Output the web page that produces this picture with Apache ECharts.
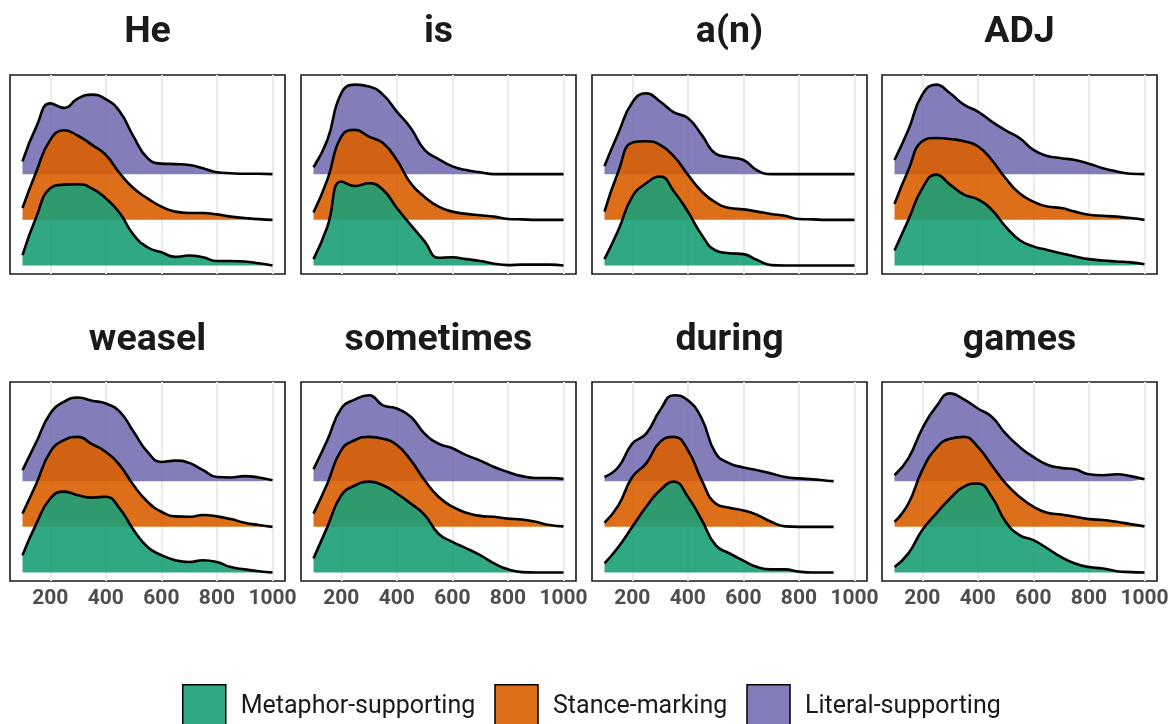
<!DOCTYPE html>
<html><head><meta charset="utf-8">
<script src="https://cdn.jsdelivr.net/npm/echarts@6/dist/echarts.min.js"></script>
<style>html,body{margin:0;padding:0;background:#fff}#c{width:1172px;height:724px}</style>
</head><body><div id="c"></div>
<script>
// ---------------- data ----------------
const panelTitles = ['He', 'is', 'a(n)', 'ADJ', 'weasel', 'sometimes', 'during', 'games'];
const groupNames = ['Metaphor-supporting', 'Stance-marking', 'Literal-supporting'];
const groupColors = ['#1B9E77', '#D95F02', '#7570B3'];
const xTicks = [200, 400, 600, 800, 1000];
// sample positions (ms) of density curves
const xGrid = [100,150,200,250,300,350,400,450,500,550,600,650,700,750,800,850,900,950,1000];
const xDuring = [100,150,200,250,300,350,400,450,500,550,600,650,700,750,800,850,900,925];

// densities (scaled, 1 = ridge spacing)
const heMetaphor = [0.23,1.07,1.69,1.77,1.78,1.69,1.47,1.15,0.67,0.40,0.29,0.19,0.22,0.18,0.10,0.10,0.09,0.05,0.00];
const heStance   = [0.26,1.06,1.75,1.96,1.84,1.64,1.42,1.02,0.69,0.47,0.29,0.18,0.15,0.15,0.12,0.07,0.04,0.015,0.00];
const heLiteral  = [0.28,1.04,1.55,1.45,1.66,1.74,1.64,1.37,0.82,0.35,0.23,0.22,0.20,0.13,0.04,0.02,0.01,0.01,0.00];

const isMetaphor = [0.14,0.85,1.84,1.74,1.80,1.66,1.26,0.89,0.53,0.17,0.18,0.14,0.10,0.04,0.01,0.02,0.02,0.02,0.00];
const isStance   = [0.16,0.88,1.82,1.97,1.82,1.68,1.31,0.80,0.50,0.29,0.18,0.13,0.10,0.07,0.02,0.01,0.00,0.00,0.00];
const isLiteral  = [0.15,0.75,1.77,1.96,1.92,1.74,1.37,1.01,0.53,0.33,0.17,0.09,0.04,0.00,0.00,0.00,0.00,0.00,0.00];

const anMetaphor = [0.14,0.78,1.51,1.80,1.95,1.62,1.18,0.67,0.33,0.27,0.25,0.12,0.01,0.00,0.00,0.00,0.00,0.00,0.00];
const anStance   = [0.18,1.06,1.69,1.72,1.64,1.39,0.99,0.62,0.38,0.26,0.23,0.18,0.13,0.09,0.02,0.01,0.00,0.00,0.00];
const anLiteral  = [0.18,0.90,1.57,1.77,1.59,1.35,1.23,0.86,0.45,0.37,0.31,0.08,0.00,0.00,0.00,0.00,0.00,0.00,0.00];

const adjMetaphor = [0.33,1.00,1.69,1.99,1.77,1.55,1.45,1.22,0.85,0.56,0.42,0.34,0.27,0.20,0.14,0.11,0.09,0.07,0.03];
const adjStance   = [0.35,1.09,1.72,1.79,1.77,1.72,1.61,1.31,0.91,0.58,0.40,0.29,0.26,0.18,0.11,0.09,0.07,0.04,0.00];
const adjLiteral  = [0.31,0.97,1.74,1.96,1.77,1.52,1.37,1.15,0.96,0.79,0.53,0.40,0.35,0.31,0.23,0.13,0.06,0.01,0.00];

const weaselMetaphor = [0.38,1.07,1.62,1.77,1.69,1.64,1.66,1.40,0.93,0.56,0.38,0.27,0.23,0.27,0.23,0.12,0.07,0.03,0.00];
const weaselStance   = [0.29,0.95,1.64,1.90,1.97,1.81,1.64,1.35,0.91,0.55,0.33,0.23,0.22,0.26,0.23,0.17,0.09,0.04,0.00];
const weaselLiteral  = [0.24,0.86,1.48,1.74,1.83,1.76,1.70,1.52,1.08,0.64,0.42,0.45,0.40,0.24,0.09,0.08,0.11,0.08,0.02];

const sometimesMetaphor = [0.31,1.00,1.69,1.91,1.99,1.91,1.73,1.51,1.26,0.85,0.67,0.53,0.38,0.20,0.07,0.01,0.00,0.00,0.00];
const sometimesStance   = [0.29,0.95,1.68,1.90,1.97,1.93,1.79,1.46,1.02,0.66,0.44,0.31,0.24,0.22,0.18,0.16,0.11,0.04,0.01];
const sometimesLiteral  = [0.26,0.90,1.59,1.79,1.88,1.66,1.59,1.41,1.04,0.82,0.72,0.57,0.45,0.31,0.20,0.11,0.07,0.07,0.05];

const duringMetaphor = [0.20,0.56,1.00,1.44,1.80,1.99,1.66,1.15,0.60,0.42,0.26,0.12,0.07,0.07,0.02,0.00,0.00,0.00];
const duringStance   = [0.09,0.47,1.09,1.39,1.86,1.97,1.68,1.02,0.51,0.42,0.36,0.26,0.11,0.01,0.00,0.00,0.00,0.00];
const duringLiteral  = [0.09,0.31,0.82,1.04,1.55,1.88,1.77,1.37,0.61,0.39,0.30,0.24,0.17,0.09,0.06,0.04,0.01,0.00];

const gamesMetaphor = [0.12,0.42,0.93,1.29,1.62,1.88,1.95,1.66,1.11,0.82,0.71,0.53,0.34,0.20,0.12,0.09,0.03,0.01,0.00];
const gamesStance   = [0.11,0.51,1.24,1.72,1.93,1.97,1.75,1.35,0.95,0.66,0.44,0.31,0.27,0.22,0.17,0.15,0.11,0.06,0.01];
const gamesLiteral  = [0.13,0.50,1.15,1.63,1.92,1.79,1.59,1.41,1.04,0.75,0.53,0.36,0.29,0.26,0.15,0.13,0.15,0.11,0.04];

const panelX = [xGrid, xGrid, xGrid, xGrid, xGrid, xGrid, xDuring, xGrid];
const panelDensities = [
  [heMetaphor, heStance, heLiteral],
  [isMetaphor, isStance, isLiteral],
  [anMetaphor, anStance, anLiteral],
  [adjMetaphor, adjStance, adjLiteral],
  [weaselMetaphor, weaselStance, weaselLiteral],
  [sometimesMetaphor, sometimesStance, sometimesLiteral],
  [duringMetaphor, duringStance, duringLiteral],
  [gamesMetaphor, gamesStance, gamesLiteral]
];

// ---------------- layout ----------------
const gridLefts = [10, 301, 592, 882];
const gridTops = [75, 382];
const gridW = 275, gridH = 199;
const titleTops = [14, 322];
const FONT = 'Roboto, "Noto Sans", sans-serif';

function rgba(hex, a) {
  const n = parseInt(hex.slice(1), 16);
  return 'rgba(' + ((n >> 16) & 255) + ',' + ((n >> 8) & 255) + ',' + (n & 255) + ',' + a + ')';
}

const grids = [], xAxes = [], yAxes = [], series = [], titles = [];
panelTitles.forEach((t, p) => {
  const row = Math.floor(p / 4), col = p % 4;
  grids.push({
    left: gridLefts[col], top: gridTops[row], width: gridW, height: gridH,
    show: true, borderColor: '#1a1a1a', borderWidth: 1.6, backgroundColor: '#fff', containLabel: false
  });
  xAxes.push({
    gridIndex: p, type: 'value', min: 55, max: 1045,
    axisLine: { show: false }, axisTick: { show: false },
    axisLabel: {
      show: row === 1, margin: 7, fontSize: 21, fontWeight: 'bold', color: '#4d4d4d', fontFamily: FONT,
      showMinLabel: false, showMaxLabel: false,
      formatter: v => xTicks.includes(v) ? String(v) : ''
    },
    splitLine: { show: true, showMinLine: false, showMaxLine: false, lineStyle: { color: '#ebebeb', width: 2 } }
  });
  yAxes.push({
    gridIndex: p, type: 'value', min: 0.815, max: 5.17, show: false,
    splitLine: { show: false }
  });
  titles.push({
    text: t, left: gridLefts[col] + gridW / 2, top: titleTops[row], textAlign: 'center', padding: 0,
    textStyle: { fontSize: 37.5, fontWeight: 'bold', color: '#1a1a1a', fontFamily: FONT }
  });
  // draw top ridge first so lower ridges overlay it
  for (let g = 2; g >= 0; g--) {
    const base = g + 1;
    const xs = panelX[p];
    const d = panelDensities[p][g];
    series.push({
      name: groupNames[g], type: 'line', xAxisIndex: p, yAxisIndex: p,
      data: xs.map((x, i) => [x, base + d[i]]),
      smooth: 0.5, symbol: 'none', silent: true,
      lineStyle: { color: '#000', width: 2.6 },
      itemStyle: { color: rgba(groupColors[g], 0.9) },
      areaStyle: { color: rgba(groupColors[g], 0.9), opacity: 1, origin: base }
    });
  }
});

const option = {
  animation: false,
  backgroundColor: '#fff',
  title: titles,
  grid: grids, xAxis: xAxes, yAxis: yAxes, series: series,
  legend: {
    top: 684, left: 182, padding: 0, icon: 'rect', selectedMode: false,
    itemWidth: 43, itemHeight: 44, itemGap: 19,
    textStyle: { fontSize: 25, color: '#1a1a1a', fontFamily: FONT, padding: [0, 0, 0, 10] },
    data: groupNames.map((n, i) => ({
      name: n, icon: 'rect',
      itemStyle: { color: rgba(groupColors[i], 0.9), borderColor: '#000', borderWidth: 1.5 }
    }))
  }
};
const chart = echarts.init(document.getElementById('c'), null, { renderer: 'canvas' });
chart.setOption(option);
</script></body></html>
